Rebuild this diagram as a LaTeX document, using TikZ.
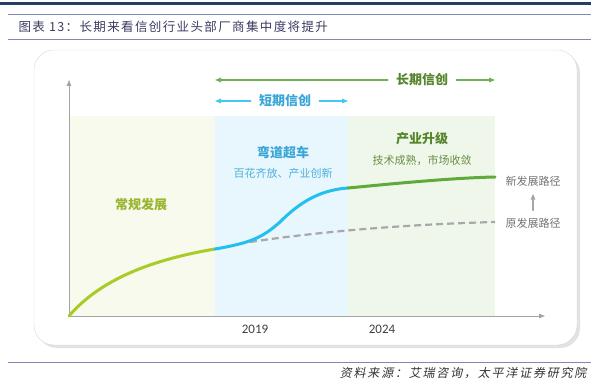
\documentclass[tikz,border=0pt]{standalone}
\usepackage{fontspec}
\setmainfont{Noto Sans CJK SC}
\newfontfamily\numfont{Carlito}
\newfontfamily\titlefont[LetterSpace=11]{Noto Sans CJK SC}
\newfontfamily\srcfont[FakeSlant=0.2,LetterSpace=15]{Noto Sans CJK SC}
\usetikzlibrary{arrows.meta,shadows}
\definecolor{navy}{HTML}{243F60}
\definecolor{rule}{HTML}{8585B8}
\definecolor{titlec}{HTML}{3C3C64}
\definecolor{yg}{HTML}{A8CB27}
\definecolor{ygtext}{HTML}{9AB530}
\definecolor{skyb}{HTML}{22BFEF}
\definecolor{skytext}{HTML}{3AA6D6}
\definecolor{grn}{HTML}{5EAA3C}
\definecolor{grntext}{HTML}{55852C}
\definecolor{grnsub}{HTML}{6A8F45}
\definecolor{fillA}{HTML}{F7FAEC}
\definecolor{fillB}{HTML}{E8F7FD}
\definecolor{fillC}{HTML}{EFF7EA}
\definecolor{axisc}{HTML}{A3A3A3}
\begin{document}
\begin{tikzpicture}[x=1pt, y=-1pt, line cap=round,
  tip/.style={-{Triangle[length=6pt,width=4.5pt]}},
  phase/.style={font=\fontsize{13}{15}\selectfont\bfseries},
  sub/.style={font=\fontsize{11}{13}\selectfont},
  year/.style={font=\numfont\fontsize{13}{15}\selectfont, text=black!75},
  path label/.style={font=\fontsize{11}{13}\selectfont, text=black!55},
  span label/.style={font=\fontsize{13}{15}\selectfont\bfseries, inner sep=8pt}]
\useasboundingbox[fill=white] (0,0) rectangle (591,379);
% header and footer
\draw[navy, line width=3pt, line cap=butt] (0,3.5) -- (591,3.5);
\draw[rule, line width=1pt, line cap=butt] (8,15) -- (591,15);
\node[anchor=west, text=titlec, font=\titlefont\fontsize{12.5}{14}\selectfont] (title) at (15,27) {图表 13：长期来看信创行业头部厂商集中度将提升};
\draw[rule, line width=0.8pt, line cap=butt] (8,39.5) -- (591,39.5);
\draw[rule, line width=0.8pt, line cap=butt] (8,362) -- (591,362);
\node[anchor=east, text=black!80, font=\srcfont\fontsize{12}{14}\selectfont] (source) at (590,373) {资料来源：艾瑞咨询，太平洋证券研究院};
% frame
\draw[draw=black!15, fill=white, rounded corners=20pt, drop shadow={shadow xshift=3pt, shadow yshift=-3pt, fill=black!22}] (34,50) rectangle (577,345);
% phases
\fill[fillA] (69,116) rectangle (215,316);
\fill[fillB] (215,116) rectangle (348,316);
\fill[fillC] (348,116) rectangle (495,316);
% axes
\coordinate (O) at (69,316);
\coordinate (ytop) at (69,80);
\coordinate (xend) at (545,316);
\draw[axisc, line width=1pt, tip] (O) -- (ytop);
\draw[axisc, line width=1pt, tip] (O) -- (xend);
\node[year] (y2019) at (255,329) {2019};
\node[year] (y2024) at (382,329) {2024};
% curves
\coordinate (p1) at (215,249);
\coordinate (split) at (250,242);
\coordinate (p2) at (348,188);
\coordinate (p3) at (495,177);
\coordinate (p4) at (495,222);
\draw[axisc!95, line width=2.2pt, line cap=butt, dash pattern=on 7pt off 4pt] (split) .. controls (330,230) and (420,224) .. (p4);
\draw[yg, line width=3pt] (O) .. controls (100,280) and (150,260) .. (p1);
\draw[skyb, line width=3pt] (p1) .. controls (250,243) and (262,238) .. (280,222) .. controls (300,202) and (320,190) .. (p2);
\draw[grn, line width=3pt] (p2) .. controls (390,184) and (450,178) .. (p3);
% spans
\node[span label, text=grntext] (long) at (422,80) {长期信创};
\coordinate (longL) at (215,80);
\coordinate (longR) at (495,80);
\draw[grn!90, line width=1.2pt, tip] (long) -- (longL);
\draw[grn!90, line width=1.2pt, tip] (long) -- (longR);
\node[span label, text=skytext] (short) at (285,101) {短期信创};
\coordinate (shortL) at (215,101);
\coordinate (shortR) at (348,101);
\draw[skyb!85, line width=1.2pt, tip] (short) -- (shortL);
\draw[skyb!85, line width=1.2pt, tip] (short) -- (shortR);
% phase labels
\node[phase, text=ygtext] (normal) at (141,205) {常规发展};
\node[phase, text=skytext] (overtake) at (283,153) {弯道超车};
\node[sub, text=skytext!90] (bloom) at (283,173) {百花齐放、产业创新};
\node[phase, text=grntext] (upgrade) at (422,139) {产业升级};
\node[sub, text=grnsub] (mature) at (422,160) {技术成熟，市场收敛};
\node[path label] (newpath) at (533,181) {新发展路径};
\node[path label] (oldpath) at (533,223) {原发展路径};
\draw[black!35, line width=1.5pt, tip, shorten >=4pt, shorten <=4pt] (oldpath) -- (newpath);
\end{tikzpicture}
\end{document}
